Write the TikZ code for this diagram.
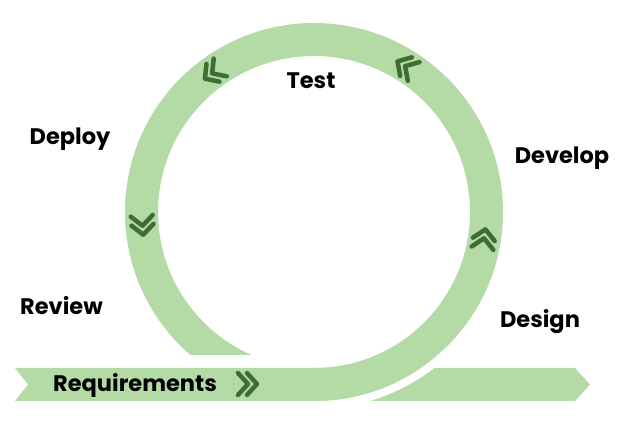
\documentclass[tikz,border=0pt]{standalone}
\usepackage{fontspec}
\setmainfont{Poppins}
\begin{document}
\begin{tikzpicture}[x=1pt,y=1pt]
\definecolor{ringgreen}{HTML}{B4DAA5}
\definecolor{chevgreen}{HTML}{3E6E34}
\tikzset{
  lbl/.style={font=\fontsize{22.5}{26}\selectfont\bfseries, text=black, inner sep=0pt},
  chevline/.style={draw=chevgreen, line width=4.5pt, line cap=round, line join=round},
  dchev/.pic={\draw[chevline] (-1,11) -- (9,0) -- (-1,-11) (-10,11) -- (0,0) -- (-10,-11);}
}
\useasboundingbox (0,0) rectangle (640,431);
\coordinate (c) at (314,219);
% bar
\fill[ringgreen] (15,63) -- (575,63) -- (590,46.5) -- (575,30) -- (15,30) -- (28,46.5) -- cycle;
% white gap along the ring's outer edge
\begin{scope}
  \clip (314,0) rectangle (640,219);
  \fill[white, even odd rule] (c) circle[radius=197] (c) circle[radius=189];
\end{scope}
% ring
\begin{scope}
  \clip (0,76) rectangle (640,431) (314,0) rectangle (640,76);
  \fill[ringgreen, even odd rule] (c) circle[radius=189] (c) circle[radius=156];
\end{scope}
% chevrons
\path (c) ++(-8.8:172) pic[rotate=81.2] {dchev};
\path (c) ++(58:172) pic[rotate=148] {dchev};
\path (c) ++(126.3:172) pic[rotate=216.3] {dchev};
\path (c) ++(184.6:172) pic[rotate=274.6] {dchev};
\path (248,47) pic {dchev};
% labels
\node[lbl] (test) at (311,350) {Test};
\node[lbl] (deploy) at (70,292) {Deploy};
\node[lbl] (develop) at (562,273) {Develop};
\node[lbl] (review) at (61.5,125) {Review};
\node[lbl] (design) at (540,109) {Design};
\node[lbl] (req) at (135,45.5) {Requirements};
\end{tikzpicture}
\end{document}
